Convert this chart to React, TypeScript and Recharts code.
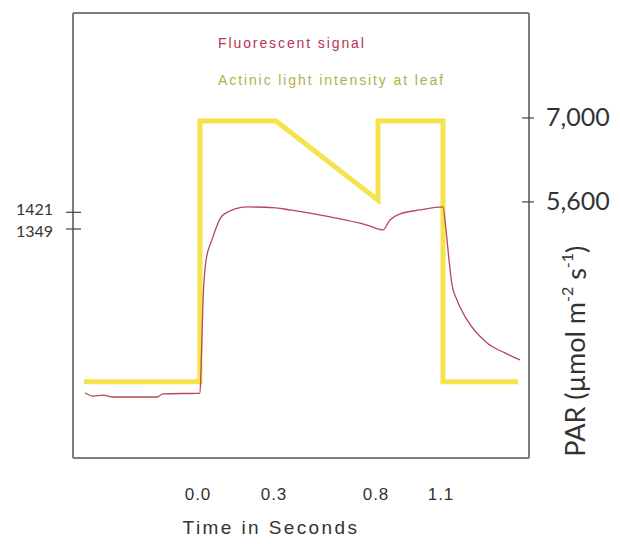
import { ComposedChart, Line, XAxis, YAxis, Legend, ReferenceLine } from 'recharts';

// time axis is drawn out of proportion in the original, so map seconds onto it piecewise
const timeKnots = [-0.5, 0, 0.3, 0.8, 1.1, 1.5];
const axisKnots = [0, 0.2785, 0.4452, 0.6689, 0.8114, 1];
const timeTicks = [0, 0.3, 0.8, 1.1];

const fluorTime = [-0.453, -0.421, -0.382, -0.343, -0.287, -0.169, -0.146, 0, 0.004, 0.012, 0.024, 0.047, 0.091, 0.186, 0.3, 0.369, 0.565, 0.746, 0.823, 0.855, 0.902, 0.994, 1.1, 1.114, 1.128, 1.142, 1.165, 1.212, 1.305, 1.388, 1.458];
const fluorValue = [642, 629, 633, 625, 625, 625, 638, 642, 741, 1043, 1215, 1302, 1410, 1444, 1440, 1431, 1401, 1366, 1345, 1388, 1414, 1431, 1444, 1345, 1216, 1108, 1043, 957, 858, 815, 785];

const lightTime = [-0.457, 0, 0, 0.3, 0.8, 0.8, 1.1, 1.1, 1.449];
const lightValue = [2600, 2600, 6950, 6950, 5630, 6950, 6950, 2600, 2600];

const leftTicks = [1349, 1421];
const rightTicks = [5600, 7000];
const fluorDomain = [362, 2280];
const lightDomain = [1330, 8750];

const warp = (t: number) => {
  for (let i = 1; i < timeKnots.length; i++) {
    if (t <= timeKnots[i] || i === timeKnots.length - 1) {
      const t0 = timeKnots[i - 1], t1 = timeKnots[i];
      const a0 = axisKnots[i - 1], a1 = axisKnots[i];
      return a0 + ((t - t0) / (t1 - t0)) * (a1 - a0);
    }
  }
  return 0;
};

const fluorData = fluorTime.map((t, i) => ({ x: warp(t), fluor: fluorValue[i] }));
const lightData = lightTime.map((t, i) => ({ x: warp(t), light: lightValue[i] }));

const AXIS = '#7d7d7d';
const TEXT = '#333';

const legendItems = [
  { key: 'fluor', label: 'Fluorescent signal', color: '#b3344f' },
  { key: 'light', label: 'Actinic light intensity at leaf', color: '#b2b04a' },
];

const TimeTick = ({ x, y, index }: any) => (
  <text x={x - 2} y={y + 42} textAnchor="middle" fontSize={17} letterSpacing={1} fill={TEXT}
    fontFamily="'Liberation Sans', Arial, sans-serif">
    {timeTicks[index].toFixed(1)}
  </text>
);

// the two left labels sit very close; nudge them apart a little like the original
const LeftTick = ({ x, y, payload, index }: any) => (
  <g>
    <line x1={x - 7} x2={x + 8} y1={y} y2={y} stroke="#444" strokeWidth={1.2} />
    <text x={x - 20} y={y + 6 + (index === 1 ? -3 : 2)} textAnchor="end" fontSize={16} fill={TEXT}
      fontFamily="Lato, sans-serif">
      {payload.value}
    </text>
  </g>
);

const RightTick = ({ x, y, payload }: any) => (
  <g>
    <line x1={x - 7} x2={x + 5} y1={y} y2={y} stroke="#444" strokeWidth={1.2} />
    <text x={x + 17} y={y + 8} textAnchor="start" fontSize={25} fill={TEXT} fontFamily="Lato, sans-serif">
      {payload.value.toLocaleString('en-US')}
    </text>
  </g>
);

const ParLabel = ({ viewBox }: any) => {
  const cx = viewBox.x + 46;
  const cy = viewBox.y + viewBox.height * 0.76;
  return (
    <text x={cx} y={cy} transform={`rotate(-90 ${cx} ${cy})`} textAnchor="middle" dominantBaseline="central"
      fontSize={27} fill={TEXT} fontFamily="Lato, sans-serif">
      PAR (µmol m<tspan dy={-9} fontSize={16}>-2</tspan>
      <tspan dy={9}> s</tspan><tspan dy={-9} fontSize={16}>-1</tspan><tspan dy={9}>)</tspan>
    </text>
  );
};

const TimeLabel = ({ viewBox }: any) => (
  <text x={viewBox.x + 198} y={viewBox.y + 76} textAnchor="middle" fontSize={19} letterSpacing={2.4} fill={TEXT}
    fontFamily="'Liberation Sans', Arial, sans-serif">
    Time in Seconds
  </text>
);

const LegendBox = () => (
  <div style={{ fontFamily: "'Liberation Sans', Arial, sans-serif", fontSize: 14, letterSpacing: 1.9 }}>
    {legendItems.map((item) => (
      <div key={item.key} style={{ color: item.color, height: 37 }}>{item.label}</div>
    ))}
  </div>
);

export default function App() {
  return (
    <div style={{ position: 'absolute', left: 0, top: 0, width: 620, height: 544, background: '#fff' }}>
      <ComposedChart width={620} height={544} margin={{ top: 13, right: 0, bottom: 0, left: 0 }}>
        <XAxis
          xAxisId="time"
          dataKey="x"
          type="number"
          domain={[0, 1]}
          ticks={timeTicks.map(warp)}
          interval={0}
          tick={<TimeTick />}
          tickLine={false}
          tickSize={0}
          tickMargin={0}
          height={86}
          axisLine={{ stroke: AXIS, strokeWidth: 2 }}
          label={<TimeLabel />}
        />
        <YAxis
          yAxisId="fluor"
          orientation="left"
          type="number"
          domain={fluorDomain}
          ticks={leftTicks}
          interval={0}
          tick={<LeftTick />}
          tickLine={false}
          tickSize={0}
          tickMargin={0}
          width={73}
          axisLine={{ stroke: AXIS, strokeWidth: 2 }}
        />
        <YAxis
          yAxisId="light"
          orientation="right"
          type="number"
          domain={lightDomain}
          ticks={rightTicks}
          interval={0}
          tick={<RightTick />}
          tickLine={false}
          tickSize={0}
          tickMargin={0}
          width={91}
          axisLine={{ stroke: AXIS, strokeWidth: 2 }}
          label={<ParLabel />}
        />
        <ReferenceLine xAxisId="time" yAxisId="fluor" y={fluorDomain[1]} stroke={AXIS} strokeWidth={2} />
        <Legend
          verticalAlign="middle"
          align="center"
          content={<LegendBox />}
          wrapperStyle={{ position: 'absolute', left: 218, top: 35, width: 300 }}
        />
        <Line
          xAxisId="time"
          yAxisId="light"
          data={lightData}
          dataKey="light"
          name="Actinic light intensity at leaf"
          type="linear"
          stroke="#f6e24a"
          strokeWidth={5}
          strokeLinejoin="miter"
          dot={false}
          isAnimationActive={false}
        />
        <Line
          xAxisId="time"
          yAxisId="fluor"
          data={fluorData}
          dataKey="fluor"
          name="Fluorescent signal"
          type="monotone"
          stroke="#b4475e"
          strokeWidth={1.3}
          dot={false}
          isAnimationActive={false}
        />
      </ComposedChart>
    </div>
  );
}
